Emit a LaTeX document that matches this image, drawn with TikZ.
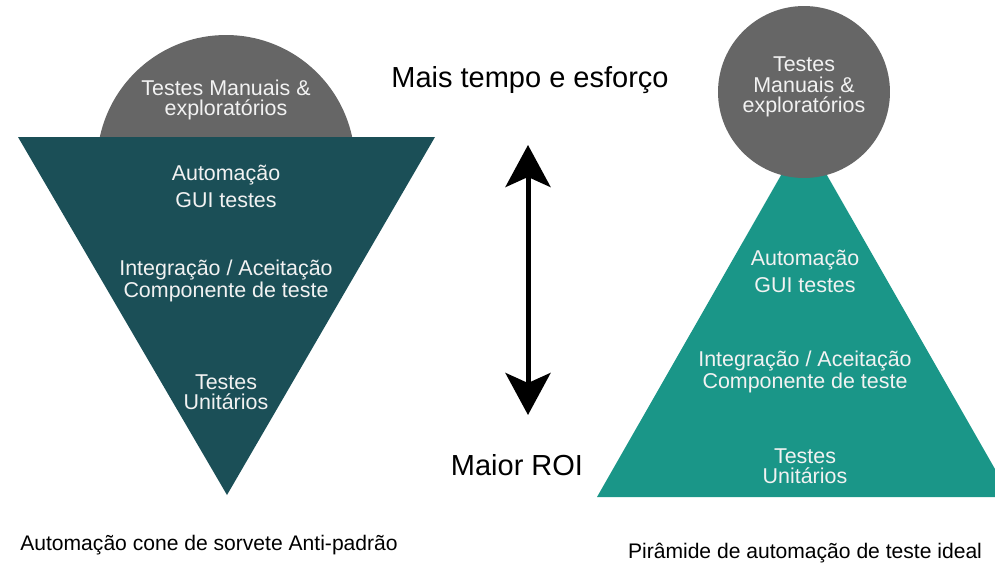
\documentclass[tikz,border=0pt]{standalone}
\usepackage{fontspec}
\setmainfont{Liberation Sans}
\usetikzlibrary{arrows.meta}

\definecolor{cone_teal}{HTML}{1B4F57}
\definecolor{pyr_teal}{HTML}{1A9688}
\definecolor{manual_gray}{HTML}{666666}
\definecolor{light_text}{HTML}{F2F2F2}

\begin{document}
\begin{tikzpicture}[x=0.02cm,y=-0.02cm,
	shape_label/.style={text=light_text,align=center,inner sep=0pt},
	side_label/.style={text=black,font=\fontsize{16.5}{18}\selectfont,inner sep=0pt},
	caption_label/.style={text=black,font=\fontsize{12}{13}\selectfont,inner sep=0pt}]
	\useasboundingbox (0,0) rectangle (995,565);
	\clip (0,0) rectangle (995,565);

	% ice cream cone (left)
	\begin{scope}
		\clip (0,0) rectangle (995,137);
		\fill[manual_gray] (226,164) circle[radius=2.58cm];
	\end{scope}
	\fill[cone_teal] (18,137) -- (435,137) -- (227,495) -- cycle;

	\node[shape_label,font=\fontsize{12.2}{11.6}\selectfont] (cone_manual) at (226,100) {Testes Manuais \&\\exploratórios};
	\node[shape_label,font=\fontsize{12.2}{15.3}\selectfont] (cone_gui) at (226,186) {Automação\\GUI testes};
	\node[shape_label,font=\fontsize{12.2}{11.2}\selectfont] (cone_integ) at (226,281) {Integração / Aceitação\\Componente de teste};
	\node[shape_label,font=\fontsize{12.2}{11.2}\selectfont] (cone_unit) at (226,392) {Testes\\Unitários};

	% pyramid (right)
	\fill[pyr_teal] (804,135) -- (1011,497) -- (597,497) -- cycle;
	\fill[manual_gray] (804,92) circle[radius=1.72cm];

	\node[shape_label,font=\fontsize{12.2}{11.6}\selectfont] (pyr_manual) at (804,87) {Testes\\Manuais \&\\exploratórios};
	\node[shape_label,font=\fontsize{12.2}{15.3}\selectfont] (pyr_gui) at (805,271) {Automação\\GUI testes};
	\node[shape_label,font=\fontsize{12.2}{11.2}\selectfont] (pyr_integ) at (805,372) {Integração / Aceitação\\Componente de teste};
	\node[shape_label,font=\fontsize{12.2}{11.2}\selectfont] (pyr_unit) at (805,466) {Testes\\Unitários};

	% middle arrow
	\node[side_label] (effort_label) at (530,80) {Mais tempo e esforço};
	\node[side_label] (roi_label) at (517,465) {Maior ROI};
	\coordinate (arrow_top) at (528,145);
	\coordinate (arrow_bot) at (528,415);
	\draw[line width=0.1cm,{Stealth[length=0.84cm,width=0.9cm,inset=0.2cm]}-{Stealth[length=0.84cm,width=0.9cm,inset=0.2cm]}] (arrow_top) -- (arrow_bot);

	% captions
	\node[caption_label] (cone_caption) at (209,545) {Automação cone de sorvete Anti-padrão};
	\node[caption_label] (pyr_caption) at (805,553) {Pirâmide de automação de teste ideal};
\end{tikzpicture}
\end{document}
